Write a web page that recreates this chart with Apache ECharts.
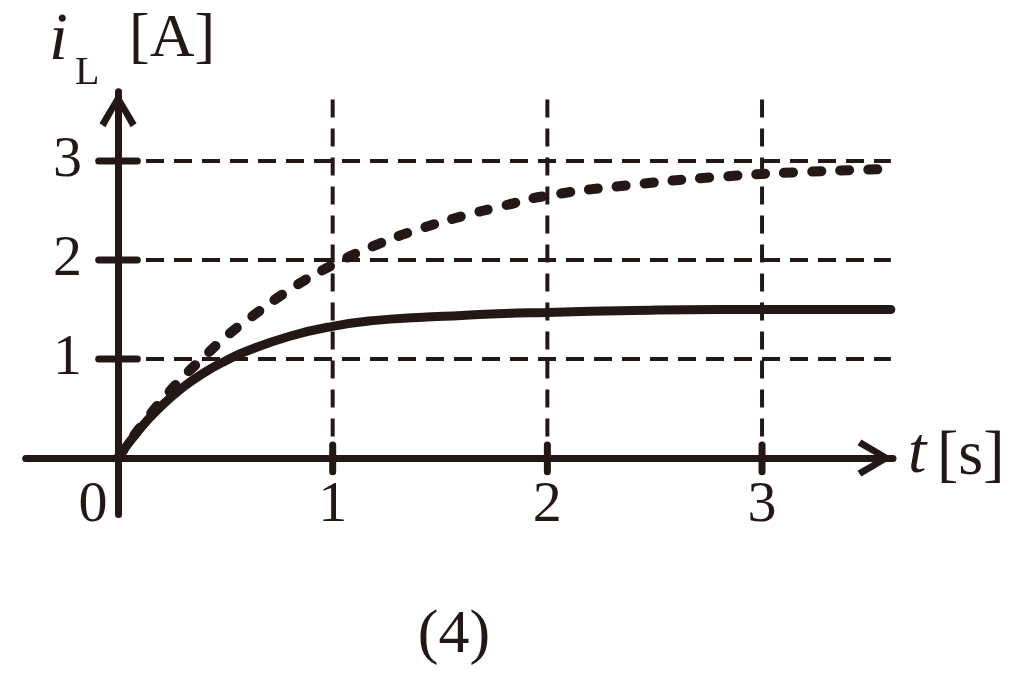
<!DOCTYPE html>
<html>
<head>
<meta charset="utf-8">
<script src="https://cdn.jsdelivr.net/npm/echarts@6/dist/echarts.min.js"></script>
<style>html,body{margin:0;padding:0;background:#fff}#c{width:1024px;height:679px}</style>
</head>
<body>
<div id="c"></div>
<script>
// ---- data ----
const tValues      = [0, 0.1, 0.2, 0.3, 0.4, 0.5, 0.6, 0.8, 1.0, 1.2, 1.4, 1.6, 1.8, 2.0, 2.4, 2.8, 3.2, 3.6];
const solidValues  = [0, 0.29, 0.52, 0.71, 0.86, 0.98, 1.08, 1.23, 1.33, 1.39, 1.42, 1.44, 1.46, 1.47, 1.49, 1.50, 1.50, 1.50];
const dashedValues = [0, 0.30, 0.57, 0.81, 1.02, 1.22, 1.39, 1.70, 1.95, 2.15, 2.31, 2.44, 2.55, 2.65, 2.76, 2.84, 2.89, 2.92];
const xTicks = [1, 2, 3];
const yTicks = [1, 2, 3];
const xLabelValues = [0, 1, 2, 3];

const INK = '#231815';
const FONT = 'Liberation Serif';
const X_MIN = -0.43, X_MAX = 3.61, Y_MIN = -0.57, Y_MAX = 3.7;
const GRID_X_END = 3.6, GRID_Y_END = 3.62;

const chevron = 'path://M19,0 L38,32 L32,36 L19,13 L6,36 L0,32 Z';

const series = [];
// horizontal dashed grid lines
yTicks.forEach(v => series.push({
  type: 'line', data: [[0, v], [GRID_X_END, v]], symbol: 'none', silent: true, z: 1,
  lineStyle: { color: INK, width: 4, type: [18, 10] }
}));
// vertical dashed grid lines
xTicks.forEach(t => series.push({
  type: 'line', data: [[t, GRID_Y_END], [t, 0]], symbol: 'none', silent: true, z: 1,
  lineStyle: { color: INK, width: 4, type: [18, 11] }
}));
// tick bars on y axis
yTicks.forEach(v => series.push({
  type: 'line', data: [[-0.09, v], [0.09, v]], symbol: 'none', silent: true, z: 3,
  lineStyle: { color: INK, width: 7, cap: 'round' }
}));
// tick bars on x axis
xTicks.forEach(t => series.push({
  type: 'line', data: [[t, -0.14], [t, 0.13]], symbol: 'none', silent: true, z: 3,
  lineStyle: { color: INK, width: 7, cap: 'round' }
}));
// curves
series.push({
  type: 'line', smooth: true, symbol: 'none', z: 4,
  data: tValues.map((t, i) => [t, solidValues[i]]),
  lineStyle: { color: INK, width: 9, cap: 'round' }
});
series.push({
  type: 'line', smooth: true, symbol: 'none', z: 4,
  data: tValues.map((t, i) => [t, dashedValues[i]]),
  lineStyle: { color: INK, width: 10, type: [9, 19], cap: 'round' }
});
// tick labels on x axis (placed at the zero line)
series.push({
  type: 'scatter', symbolSize: 0, silent: true, z: 5,
  itemStyle: { opacity: 1, color: INK },
  data: xLabelValues.map(t => ({
    value: [t, 0],
    label: t === 0 ? { offset: [-25, 0] } : {}
  })),
  label: {
    show: true, position: 'bottom', distance: 19, opacity: 1,
    formatter: p => String(p.value[0]),
    color: INK, fontFamily: FONT, fontSize: 58
  }
});
// tick labels on y axis
series.push({
  type: 'scatter', symbolSize: 0, silent: true, z: 5,
  itemStyle: { opacity: 1, color: INK },
  data: yTicks.map(v => [0, v]),
  label: {
    show: true, position: 'left', distance: 36, opacity: 1,
    formatter: p => String(p.value[1]),
    color: INK, fontFamily: FONT, fontSize: 58
  }
});

const chart = echarts.init(document.getElementById('c'), null, { renderer: 'canvas' });
chart.setOption({
  animation: false,
  backgroundColor: '#fff',
  grid: { left: 25.7, right: 131, top: 91.7, bottom: 164.6, containLabel: false, outerBoundsMode: 'none' },
  xAxis: {
    type: 'value', min: X_MIN, max: X_MAX,
    axisLine: {
      show: true, onZero: true,
      symbol: ['none', chevron], symbolSize: [37, 36], symbolOffset: [0, -18],
      lineStyle: { color: INK, width: 7, cap: 'round' }
    },
    axisTick: { show: false },
    splitLine: { show: false },
    axisLabel: { show: false }
  },
  yAxis: {
    type: 'value', min: Y_MIN, max: Y_MAX,
    axisLine: {
      show: true, onZero: true,
      symbol: ['none', chevron], symbolSize: [37, 36], symbolOffset: [0, -18],
      lineStyle: { color: INK, width: 7, cap: 'round' }
    },
    axisTick: { show: false },
    splitLine: { show: false },
    axisLabel: { show: false }
  },
  graphic: [
    { type: 'text', z: 10, style: { text: 'i', x: 49, y: 41, fill: INK, font: 'italic 68px "Liberation Serif"', textAlign: 'left', textVerticalAlign: 'middle' } },
    { type: 'text', z: 10, style: { text: 'L', x: 75, y: 73, fill: INK, font: '40px "Liberation Serif"', textAlign: 'left', textVerticalAlign: 'middle' } },
    { type: 'text', z: 10, style: { text: '[A]', x: 129, y: 40, fill: INK, font: '62px "Liberation Serif"', textAlign: 'left', textVerticalAlign: 'middle' } },
    { type: 'text', z: 10, style: { text: 't', x: 908, y: 455, fill: INK, font: 'italic 66px "Liberation Serif"', textAlign: 'left', textVerticalAlign: 'middle' } },
    { type: 'text', z: 10, style: { text: '[s]', x: 937, y: 457, fill: INK, font: '64px "Liberation Serif"', textAlign: 'left', textVerticalAlign: 'middle' } },
    { type: 'text', z: 10, style: { text: '(4)', x: 454, y: 636, fill: INK, font: '62px "Liberation Serif"', textAlign: 'center', textVerticalAlign: 'middle' } }
  ],
  series: series
});
</script>
</body>
</html>
